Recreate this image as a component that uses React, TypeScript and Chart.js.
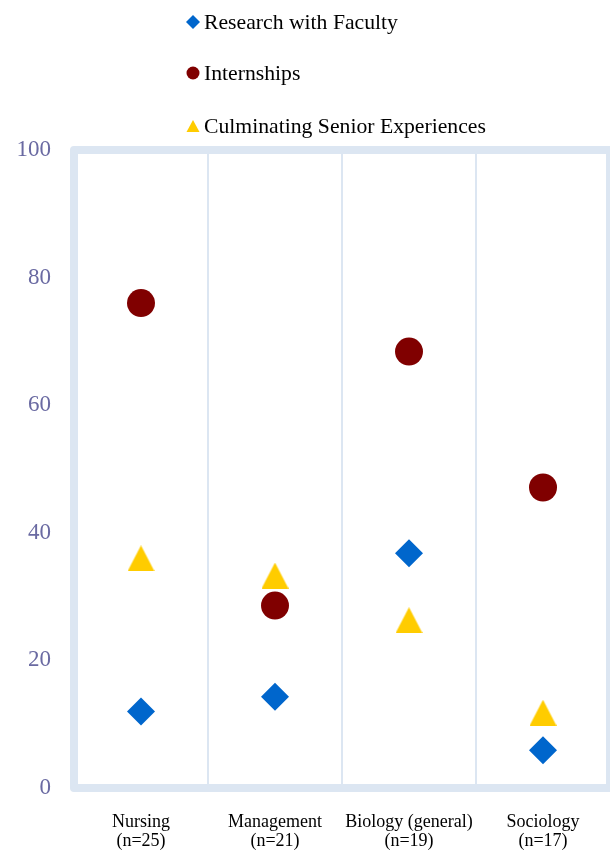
import React, { useEffect, useRef } from "react";
import { Chart, registerables } from "chart.js";

Chart.register(...registerables);

const categories: string[][] = [
  ["Nursing", "(n=25)"],
  ["Management", "(n=21)"],
  ["Biology (general)", "(n=19)"],
  ["Sociology", "(n=17)"],
];
const seriesNames = ["Research with Faculty", "Internships", "Culminating Senior Experiences"];
const researchValues = [12.0, 14.3, 36.8, 5.9];
const internshipValues = [76.0, 28.6, 68.4, 47.1];
const culminatingValues = [36.0, 33.3, 26.3, 11.8];
const yTicks = [0, 20, 40, 60, 80, 100];

const BLUE = "#0066cc";
const MAROON = "#800000";
const GOLD = "#ffcc00";
const FRAME = "#dce6f2";
const TICK_COLOR = "#6a6aa2";
const SERIF = "'Liberation Serif', 'Times New Roman', serif";

function makeTriangle(w: number, h: number, color: string): HTMLCanvasElement {
  const c = document.createElement("canvas");
  c.width = w;
  c.height = h;
  const ctx = c.getContext("2d")!;
  ctx.fillStyle = color;
  ctx.beginPath();
  ctx.moveTo(w / 2, 0);
  ctx.lineTo(w, h);
  ctx.lineTo(0, h);
  ctx.closePath();
  ctx.fill();
  return c;
}

const framePlugin = {
  id: "frame",
  beforeDatasetsDraw(chart: any) {
    const { ctx, chartArea } = chart;
    ctx.save();
    ctx.strokeStyle = FRAME;
    ctx.lineWidth = 8;
    ctx.lineJoin = "round";
    ctx.strokeRect(chartArea.left, chartArea.top, chartArea.right - chartArea.left, chartArea.bottom - chartArea.top);
    ctx.restore();
  },
};

const legendPlugin = {
  id: "customLegend",
  afterDraw(chart: any) {
    const { ctx } = chart;
    const rows = [22, 73, 126];
    const mx = 193;
    ctx.save();
    chart.data.datasets.forEach((ds: any, i: number) => {
      const y = rows[i];
      ctx.fillStyle = ds.legendColor;
      ctx.beginPath();
      if (ds.legendShape === "diamond") {
        ctx.moveTo(mx, y - 7);
        ctx.lineTo(mx + 7, y);
        ctx.lineTo(mx, y + 7);
        ctx.lineTo(mx - 7, y);
        ctx.closePath();
      } else if (ds.legendShape === "circle") {
        ctx.arc(mx, y, 6.5, 0, Math.PI * 2);
      } else {
        ctx.moveTo(mx, y - 6);
        ctx.lineTo(mx + 6.5, y + 6);
        ctx.lineTo(mx - 6.5, y + 6);
        ctx.closePath();
      }
      ctx.fill();
      ctx.fillStyle = "#000";
      ctx.font = `21.7px ${SERIF}`;
      ctx.textBaseline = "middle";
      ctx.textAlign = "left";
      ctx.fillText(ds.label, 204, y + 1);
    });
    ctx.restore();
  },
};

export default function App() {
  const ref = useRef<HTMLCanvasElement>(null);
  useEffect(() => {
    if (!ref.current) return;
    const tri = makeTriangle(27, 26, GOLD);
    const chart = new Chart(ref.current, {
      type: "line",
      data: {
        labels: categories,
        datasets: [
          {
            label: seriesNames[0],
            data: researchValues,
            showLine: false,
            pointStyle: "rectRot",
            pointRadius: 14,
            backgroundColor: BLUE,
            borderColor: BLUE,
            pointBorderWidth: 0,
            legendColor: BLUE,
            legendShape: "diamond",
          } as any,
          {
            label: seriesNames[1],
            data: internshipValues,
            showLine: false,
            pointStyle: "circle",
            pointRadius: 14,
            backgroundColor: MAROON,
            borderColor: MAROON,
            pointBorderWidth: 0,
            legendColor: MAROON,
            legendShape: "circle",
          } as any,
          {
            label: seriesNames[2],
            data: culminatingValues,
            showLine: false,
            pointStyle: tri,
            pointRadius: 14,
            backgroundColor: GOLD,
            borderColor: GOLD,
            pointBorderWidth: 0,
            legendColor: GOLD,
            legendShape: "triangle",
          } as any,
        ],
      },
      options: {
        animation: false,
        responsive: false,
        events: [],
        layout: { autoPadding: false, padding: { top: 150, right: 0, left: 0, bottom: 0 } },
        plugins: {
          legend: { display: false },
          tooltip: { enabled: false },
        },
        scales: {
          x: {
            type: "category",
            offset: true,
            grid: { offset: true, color: FRAME, lineWidth: 2, drawTicks: false },
            border: { display: false },
            ticks: {
              color: "#000",
              font: { family: SERIF, size: 18, lineHeight: 1.1 },
              padding: 24,
              maxRotation: 0,
              autoSkip: false,
            },
            afterFit: (scale: any) => {
              scale.height = 63;
              scale.paddingLeft = 0;
              scale.paddingRight = 0;
            },
          },
          y: {
            min: 0,
            max: 100,
            afterBuildTicks: (scale: any) => {
              scale.ticks = yTicks.map((v) => ({ value: v }));
            },
            grid: { display: false, drawTicks: false },
            border: { display: false },
            ticks: {
              color: TICK_COLOR,
              font: { family: SERIF, size: 23 },
              padding: 23,
            },
            afterFit: (scale: any) => {
              scale.width = 74;
              scale.paddingTop = 0;
              scale.paddingBottom = 0;
            },
          },
        },
      },
      plugins: [framePlugin, legendPlugin],
    });
    return () => chart.destroy();
  }, []);
  return (
    <div style={{ position: "absolute", left: 0, top: 0, width: 610, height: 851, overflow: "hidden", background: "#fff" }}>
      <canvas ref={ref} width={610} height={851} style={{ display: "block" }} />
    </div>
  );
}
